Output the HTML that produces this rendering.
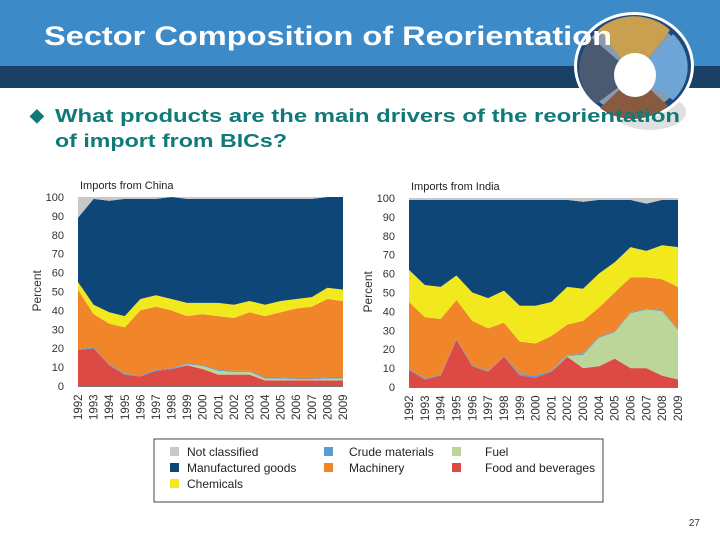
<!DOCTYPE html>
<html><head><meta charset="utf-8"><style>
body{margin:0;width:720px;height:540px;overflow:hidden;background:#fff;font-family:"Liberation Sans",sans-serif}
svg{position:absolute;left:0;top:0}
</style></head><body>
<svg id="s" width="720" height="540">
<rect x="0" y="0" width="720" height="66" fill="#3d8ac8"/>
<rect x="0" y="66" width="720" height="22" fill="#1b4066"/>
<g>
<ellipse cx="650" cy="112" rx="36" ry="18" fill="#ccc" opacity="0.6"/>
<ellipse cx="634" cy="66" rx="60" ry="54" fill="#fff"/>
<ellipse cx="634" cy="66" rx="57" ry="51" fill="#1b4a7a"/>
<ellipse cx="632" cy="66" rx="51" ry="47" fill="#8a9bb0"/>
<path d="M635 75 L598 30 A51 47 0 0 1 670 30 Z" fill="#c8a050"/>
<path d="M635 75 L673 34 A51 47 0 0 1 673 100 Z" fill="#6fa6d8"/>
<path d="M635 75 L600 108 A51 47 0 0 0 668 106 Z" fill="#8a5a40"/>
<path d="M635 75 L592 38 A51 47 0 0 0 596 104 Z" fill="#4a5a70"/>
<ellipse cx="635" cy="75" rx="21" ry="22" fill="#fff"/>
</g>
<text x="44" y="45" font-size="27" font-weight="bold" fill="#fff" textLength="568" lengthAdjust="spacingAndGlyphs">Sector Composition of Reorientation</text>
<text x="30" y="121" font-size="18" font-weight="bold" fill="#0f7a78">◆</text>
<text x="55" y="122" font-size="18" font-weight="bold" fill="#0f7a78" textLength="625" lengthAdjust="spacingAndGlyphs">What products are the main drivers of the reorientation</text>
<text x="55" y="147" font-size="18" font-weight="bold" fill="#0f7a78" textLength="232" lengthAdjust="spacingAndGlyphs">of import from BICs?</text>
<g id="charts"></g>
<rect x="154" y="439" width="449" height="63" fill="#fff" stroke="#444" stroke-width="1"/>
<g id="legend"></g>
<text x="700" y="526" font-size="10" text-anchor="end" fill="#333">27</text>
</svg>
<script>
const years=[1992,1993,1994,1995,1996,1997,1998,1999,2000,2001,2002,2003,2004,2005,2006,2007,2008,2009];
const yTicks=[0,10,20,30,40,50,60,70,80,90,100];
const seriesNames=["Food and beverages","Fuel","Crude materials","Machinery","Chemicals","Manufactured goods","Not classified"];
const seriesColors=["#dd4a44","#bcd69a","#5b9bd5","#f0852a","#f2e81e","#0f4678","#c8c8c8"];
const chinaFood=[19,20,11,6,5,8,9,11,9,6,6,6,3,3,3,3,3,3];
const chinaFuel=[0,0,0,0,0,0,0,0.5,1.5,2,1.5,1.5,1,1,0.5,0.5,1,1];
const chinaCrude=[0.5,0.5,0.5,0.5,0.5,0.5,0.5,0.5,0.5,0.5,0.5,0.5,0.5,0.5,0.5,0.5,0.5,0.5];
const chinaMach=[31.5,17.5,21.5,24.5,34.5,33.5,30.5,25,27,28.5,28,31,32.5,34.5,37,38,41.5,40.5];
const chinaChem=[4,5,6,6,6,6,6,7,6,7,7,6,6,6,5,5,6,6];
const chinaManuf=[34,56,59,62,53,51,54,55,55,55,56,54,56,54,53,52,48,49];
const chinaNC=[11,1,2,1,1,1,0,1,1,1,1,1,1,1,1,1,0,0];
const indiaFood=[9,4,6,25,11,8,16,6,5,8,16,10,11,15,10,10,6,4];
const indiaFuel=[0,0,0,0,0,0,0,0,0,0,0.5,7,15,14,29,31,34,26];
const indiaCrude=[0.5,0.5,0.5,0.5,0.5,0.5,0.5,1,1,0.5,0.5,0.5,0.5,0.5,0.5,0.5,0.5,0.5];
const indiaMach=[35.5,32.5,29.5,20.5,23.5,22.5,17.5,17,17,18.5,16,17.5,15.5,20.5,18.5,16.5,16.5,22.5];
const indiaChem=[17,17,17,13,15,16,17,19,20,18,20,17,18,16,16,14,18,21];
const indiaManuf=[37,45,46,40,49,52,48,56,56,54,46,46,39,33,25,25,24,25];
const indiaNC=[1,1,1,1,1,1,1,1,1,1,1,2,1,1,1,3,1,1];
const NS="http://www.w3.org/2000/svg";
function mk(t,a,p){const e=document.createElementNS(NS,t);for(const k in a)e.setAttribute(k,a[k]);p.appendChild(e);return e;}
const charts=document.getElementById('charts');
function draw(key,title,series,x0,x1,y0,y100){
  const g=mk('g',{},charts);
  
  
  const xs=i=>x0+(x1-x0)*i/(years.length-1);
  const ys=v=>y0+(y100-y0)*v/100;
  let base=years.map(()=>0);
  series.forEach((s,k)=>{
    const top=base.map((b,i)=>b+s[i]);
    let d='M'+years.map((_,i)=>xs(i)+','+ys(top[i])).join(' L');
    for(let i=years.length-1;i>=0;i--)d+=' L'+xs(i)+','+ys(base[i]);
    const p=mk('path',{d:d+'Z',fill:seriesColors[k]},g);
    
    
    base=top;
  });
  mk('line',{x1:x0,y1:y0+0.5,x2:x1,y2:y0+0.5,stroke:'#777'},g);
  yTicks.forEach(t=>{
    const tx=mk('text',{x:x0-14,y:ys(t)+4,'font-size':11,'text-anchor':'end',fill:'#333'},g);
    tx.textContent=t;
    
    
  });
  years.forEach((yr,i)=>{
    const tx=mk('text',{transform:'translate('+(xs(i)+4)+','+(y0+34)+') rotate(-90)','font-size':11.5,fill:'#333'},g);
    tx.textContent=yr;
    
    
  });
  const yt=mk('text',{transform:'translate('+(x0-37)+','+((y0+y100)/2+20)+') rotate(-90)','font-size':12,fill:'#333'},g);
  yt.textContent='Percent';
  
  
  const ti=mk('text',{x:x0+2,y:y100-8,'font-size':11,fill:'#222'},g);
  ti.textContent=title;
  
  
}
draw('china','Imports from China',[chinaFood,chinaFuel,chinaCrude,chinaMach,chinaChem,chinaManuf,chinaNC],78,343,386,197);
draw('india','Imports from India',[indiaFood,indiaFuel,indiaCrude,indiaMach,indiaChem,indiaManuf,indiaNC],409,678,387,198);
const lg=document.getElementById('legend');
const legendItems=[[6,170,187,452],[5,170,187,468],[4,170,187,484],[2,324,349,452],[3,324,349,468],[1,452,485,452],[0,452,485,468]];
legendItems.forEach(([k,sx,tx,y])=>{
  const r=mk('rect',{x:sx,y:y-5,width:9,height:9,fill:seriesColors[k]},lg);
  
  
  const t=mk('text',{x:tx,y:y+4,'font-size':12,fill:'#222'},lg);
  t.textContent=seriesNames[k];
  
  
});
</script>
</body></html>
